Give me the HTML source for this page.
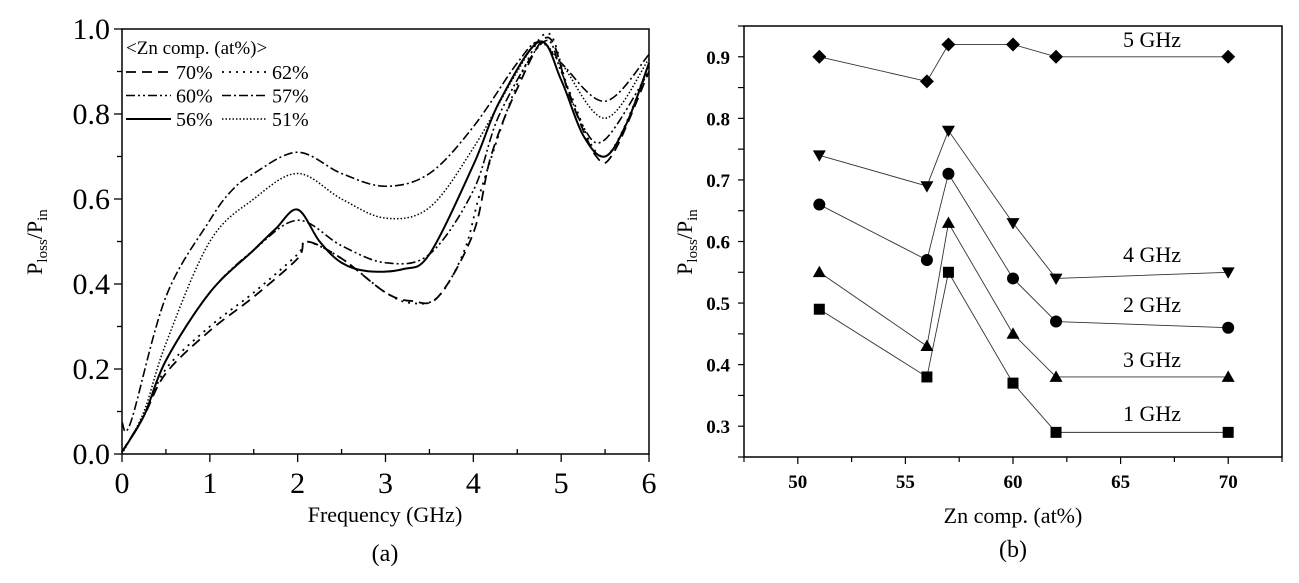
<!DOCTYPE html>
<html><head><meta charset="utf-8"><style>
body{margin:0;background:#fff;}
svg text{font-family:"Liberation Serif",serif;fill:#000;}
</style></head><body>
<svg id="fig" width="1299" height="578" viewBox="0 0 1299 578">
<g id="pa"></g>
<g id="pb"></g>
</svg>
<script>
// ---- Panel (a) data ----
const aXTicks=[0,1,2,3,4,5,6];
const aYTicks=[0.0,0.2,0.4,0.6,0.8,1.0];
const s70x=[0,0.25,0.5,1,1.5,2,2.1,2.5,3,3.3,3.6,4,4.2,4.5,4.85,5.1,5.4,5.6,6];
const s70y=[0.005,0.09,0.19,0.29,0.37,0.46,0.50,0.46,0.38,0.36,0.37,0.52,0.70,0.86,0.98,0.84,0.70,0.71,0.90];
const s62x=[0,0.25,0.5,1,1.5,2,2.1,2.5,3,3.3,3.6,3.9,4.1,4.5,4.85,5.1,5.5,6];
const s62y=[0.005,0.09,0.20,0.30,0.38,0.47,0.50,0.46,0.38,0.355,0.37,0.48,0.63,0.87,0.99,0.85,0.70,0.91];
const s60x=[0,0.25,0.5,1,1.5,2,2.5,3,3.5,4,4.3,4.8,5,5.25,5.5,6];
const s60y=[0.005,0.09,0.22,0.38,0.48,0.55,0.49,0.45,0.47,0.62,0.80,0.97,0.90,0.77,0.74,0.90];
const s57x=[0,0.1,0.5,1,1.25,1.5,2,2.5,3,3.5,4,4.5,4.75,5,5.5,6];
const s57y=[0.075,0.075,0.37,0.55,0.62,0.66,0.71,0.66,0.63,0.66,0.77,0.92,0.97,0.92,0.83,0.94];
const s56x=[0,0.25,0.5,1,1.5,1.75,2,2.25,2.5,2.8,3.2,3.5,4,4.3,4.75,5,5.25,5.5,5.75,6];
const s56y=[0.005,0.09,0.22,0.38,0.48,0.53,0.575,0.50,0.45,0.43,0.435,0.47,0.68,0.83,0.97,0.88,0.75,0.70,0.78,0.92];
const s51x=[0,0.25,0.5,1,1.5,2,2.5,3,3.5,4,4.5,4.75,5,5.5,6];
const s51y=[0.0,0.10,0.26,0.50,0.60,0.66,0.60,0.555,0.58,0.72,0.90,0.97,0.92,0.79,0.93];
// ---- Panel (b) data ----
const bComp=[51,56,57,60,62,70];
const b1=[0.49,0.38,0.55,0.37,0.29,0.29];
const b2=[0.66,0.57,0.71,0.54,0.47,0.46];
const b3=[0.55,0.43,0.63,0.45,0.38,0.38];
const b4=[0.74,0.69,0.78,0.63,0.54,0.55];
const b5=[0.90,0.86,0.92,0.92,0.90,0.90];
const bXTicks=[50,55,60,65,70];
const bYTicks=[0.3,0.4,0.5,0.6,0.7,0.8,0.9];

const NS='http://www.w3.org/2000/svg';
function mk(p,tag,at,txt){const e=document.createElementNS(NS,tag);for(const k in at)e.setAttribute(k,at[k]);if(txt!==undefined)e.textContent=txt;p.appendChild(e);return e;}

// Panel a
const pa=document.getElementById('pa');
const aL=122,aR=649,aT=29,aB=454;
const ax=v=>aL+(v-0)/6*(aR-aL), ay=v=>aB-v*(aB-aT);
const fr=mk(pa,'rect',{x:aL,y:aT,width:aR-aL,height:aB-aT,fill:'none',stroke:'#000','stroke-width':1.5});

for(let v=0;v<=6.001;v+=0.5){const maj=Math.abs(v-Math.round(v))<1e-6;
 const t=mk(pa,'line',{x1:ax(v),x2:ax(v),y1:aB,y2:maj?aB+8:aB-5,stroke:'#000','stroke-width':1.3});
 }
aXTicks.forEach(v=>{const t=mk(pa,'text',{x:ax(v),y:493,'font-size':30,'text-anchor':'middle'},String(v));
 });
for(let v=0;v<=1.0001;v+=0.1){const maj=Math.round(v*10)%2===0;
 const t=mk(pa,'line',{x1:aL,x2:aL-(maj?8:5),y1:ay(v),y2:ay(v),stroke:'#000','stroke-width':1.3});
 }
aYTicks.forEach(v=>{const t=mk(pa,'text',{x:110,y:ay(v)+10,'font-size':30,'text-anchor':'end'},v.toFixed(1));
 });
let xt=mk(pa,'text',{x:385,y:522,'font-size':22,'text-anchor':'middle'},'Frequency (GHz)');

let yt=mk(pa,'text',{transform:'translate(42,242) rotate(-90)','font-size':22,'text-anchor':'middle'});
yt.innerHTML='P<tspan font-size="15" dy="5">loss</tspan><tspan dy="-5">/P</tspan><tspan font-size="15" dy="5">in</tspan>';

let cap=mk(pa,'text',{x:385,y:561,'font-size':24,'text-anchor':'middle'},'(a)');


function smooth(xs,ys){const P=xs.map((x,i)=>[ax(x),ay(ys[i])]);let d='M'+P[0][0]+','+P[0][1];
 for(let i=0;i<P.length-1;i++){const p0=P[Math.max(0,i-1)],p1=P[i],p2=P[i+1],p3=P[Math.min(P.length-1,i+2)];
  const c1=[p1[0]+(p2[0]-p0[0])/6,p1[1]+(p2[1]-p0[1])/6],c2=[p2[0]-(p3[0]-p1[0])/6,p2[1]-(p3[1]-p1[1])/6];
  d+=' C'+c1+' '+c2+' '+p2;}return d;}
const styles={
 s70:{xs:s70x,ys:s70y,dash:'10,6',w:1.8,lab:'70%'},
 s62:{xs:s62x,ys:s62y,dash:'2,5',w:1.8,lab:'62%'},
 s60:{xs:s60x,ys:s60y,dash:'9,3,2,3,2,3',w:1.6,lab:'60%'},
 s57:{xs:s57x,ys:s57y,dash:'9,3,2,3',w:1.6,lab:'57%'},
 s56:{xs:s56x,ys:s56y,dash:'',w:2,lab:'56%'},
 s51:{xs:s51x,ys:s51y,dash:'1.5,2',w:1.5,lab:'51%'}};
for(const k in styles){const s=styles[k];
 const p=mk(pa,'path',{d:smooth(s.xs,s.ys),fill:'none',stroke:'#000','stroke-width':s.w,'stroke-dasharray':s.dash});
 }
let lt=mk(pa,'text',{x:126,y:54,'font-size':19},'<Zn comp. (at%)>');

const legOrder=[['s70',0,0],['s62',1,0],['s60',0,1],['s57',1,1],['s56',0,2],['s51',1,2]];
legOrder.forEach(([k,c,r])=>{const s=styles[k];const y=72+r*23.5;const x0=c?222:126;
 const g=mk(pa,'g',{});
 mk(g,'line',{x1:x0,x2:x0+45,y1:y,y2:y,stroke:'#000','stroke-width':s.w,'stroke-dasharray':s.dash});
 mk(g,'text',{x:x0+50,y:y+7,'font-size':20},s.lab);});

// Panel b
const pb=document.getElementById('pb');
const bL=744,bR=1282,bT=26,bB=457,xmin=47.5,xmax=72.5,ymin=0.25,ymax=0.95;
const bx=v=>bL+(v-xmin)/(xmax-xmin)*(bR-bL), by=v=>bB-(v-ymin)/(ymax-ymin)*(bB-bT);
const fb=mk(pb,'rect',{x:bL,y:bT,width:bR-bL,height:bB-bT,fill:'none',stroke:'#000','stroke-width':1.5});

for(let v=47.5;v<=72.51;v+=2.5){const maj=Math.abs(v%5)<1e-6;
 const t=mk(pb,'line',{x1:bx(v),x2:bx(v),y1:bB,y2:bB+(maj?7:5),stroke:'#000','stroke-width':1.2});
 }
bXTicks.forEach(v=>{const t=mk(pb,'text',{x:bx(v),y:488,'font-size':19,'font-weight':'bold','text-anchor':'middle'},String(v));
 });
for(let v=0.25;v<=0.951;v+=0.05){const t=mk(pb,'line',{x1:bL,x2:bL-6,y1:by(v),y2:by(v),stroke:'#000','stroke-width':1.2});
 }
bYTicks.forEach(v=>{const t=mk(pb,'text',{x:730,y:by(v)+7,'font-size':19,'font-weight':'bold','text-anchor':'end'},v.toFixed(1));
 });
xt=mk(pb,'text',{x:1013,y:523,'font-size':22,'text-anchor':'middle'},'Zn comp. (at%)');

yt=mk(pb,'text',{transform:'translate(692,242) rotate(-90)','font-size':22,'text-anchor':'middle'});
yt.innerHTML='P<tspan font-size="15" dy="5">loss</tspan><tspan dy="-5">/P</tspan><tspan font-size="15" dy="5">in</tspan>';

cap=mk(pb,'text',{x:1013,y:557,'font-size':24,'text-anchor':'middle'},'(b)');


function marker(g,shape,x,y){const r=6.5;
 if(shape==='sq')return mk(g,'rect',{x:x-5.5,y:y-5.5,width:11,height:11});
 if(shape==='ci')return mk(g,'circle',{cx:x,cy:y,r:6});
 if(shape==='up')return mk(g,'polygon',{points:`${x},${y-r} ${x+r},${y+r*0.75} ${x-r},${y+r*0.75}`});
 if(shape==='dn')return mk(g,'polygon',{points:`${x},${y+r} ${x+r},${y-r*0.75} ${x-r},${y-r*0.75}`});
 return mk(g,'polygon',{points:`${x},${y-7} ${x+7},${y} ${x},${y+7} ${x-7},${y}`});}
const series=[[b1,'sq','1 GHz',421],[b3,'up','3 GHz',367],[b2,'ci','2 GHz',312],[b4,'dn','4 GHz',262],[b5,'di','5 GHz',47]];
series.forEach(([vals,shape,lab,ly])=>{const g=mk(pb,'g',{});
 
 mk(g,'polyline',{points:bComp.map((c,i)=>bx(c)+','+by(vals[i])).join(' '),fill:'none',stroke:'#333','stroke-width':0.9});
 bComp.forEach((c,i)=>{const m=marker(g,shape,bx(c),by(vals[i]));m.setAttribute('fill','#000');
  });
 const t=mk(pb,'text',{x:1152,y:ly,'font-size':22,'text-anchor':'middle'},lab);
 });
</script>
</body></html>
